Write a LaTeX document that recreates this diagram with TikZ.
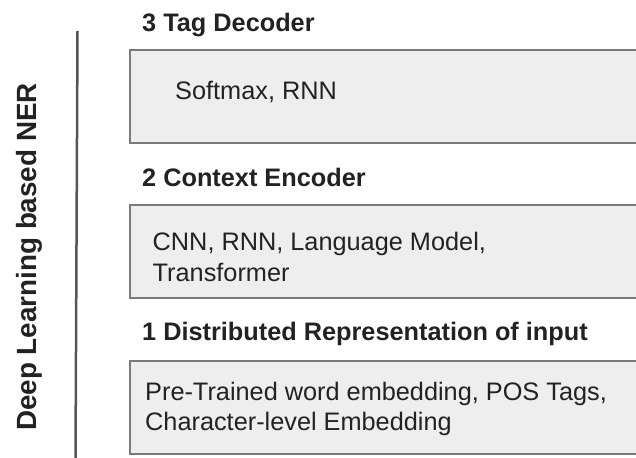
\documentclass[tikz,border=0pt]{standalone}
\usepackage{fontspec}
\setmainfont{Liberation Sans}
\definecolor{boxfill}{HTML}{EEEEEE}
\definecolor{boxline}{HTML}{7A7A7A}
\definecolor{txt}{HTML}{222222}
\definecolor{axisline}{HTML}{555555}
\begin{document}
\begin{tikzpicture}[x=1pt,y=-1pt,
  layerbox/.style={draw=boxline, fill=boxfill, line width=2.5pt, anchor=north west,
    minimum width=520pt, minimum height=93pt, inner sep=0pt, outer sep=0pt},
  title/.style={anchor=base west, inner sep=0pt, text=txt, font=\fontsize{25.3}{31}\selectfont\bfseries},
  body/.style={anchor=base west, inner sep=0pt, text=txt, font=\fontsize{25.3}{31}\selectfont},
  side/.style={anchor=base, inner sep=0pt, rotate=90, text=txt, font=\fontsize{27.8}{33}\selectfont\bfseries}]
\useasboundingbox (0,0) rectangle (636,457);
\clip (0,0) rectangle (636,457);
% vertical axis line
\coordinate (lt) at (77.5,31);
\coordinate (lb) at (75.5,458);
\draw[axisline, line width=2.5pt] (lt) -- (lb);
\node[side] (lab) at (36,257) {Deep Learning based NER};
% layer 3
\node[title] (t3) at (142,31.5) {3 Tag Decoder};
\node[layerbox] (b3) at (130,50) {};
\node[body] (x3) at (175,100) {Softmax, RNN};
% layer 2
\node[title] (t2) at (142,186) {2 Context Encoder};
\node[layerbox] (b2) at (130,205) {};
\node[body] (x2a) at (152.5,250.5) {CNN, RNN, Language Model,};
\node[body] (x2b) at (152.5,281.5) {Transformer};
% layer 1
\node[title] (t1) at (142,340) {1 Distributed Representation of input};
\node[layerbox] (b1) at (130,361) {};
\node[body] (x1a) at (145,400) {Pre-Trained word embedding, POS Tags,};
\node[body] (x1b) at (145,430.5) {Character-level Embedding};
\end{tikzpicture}
\end{document}
